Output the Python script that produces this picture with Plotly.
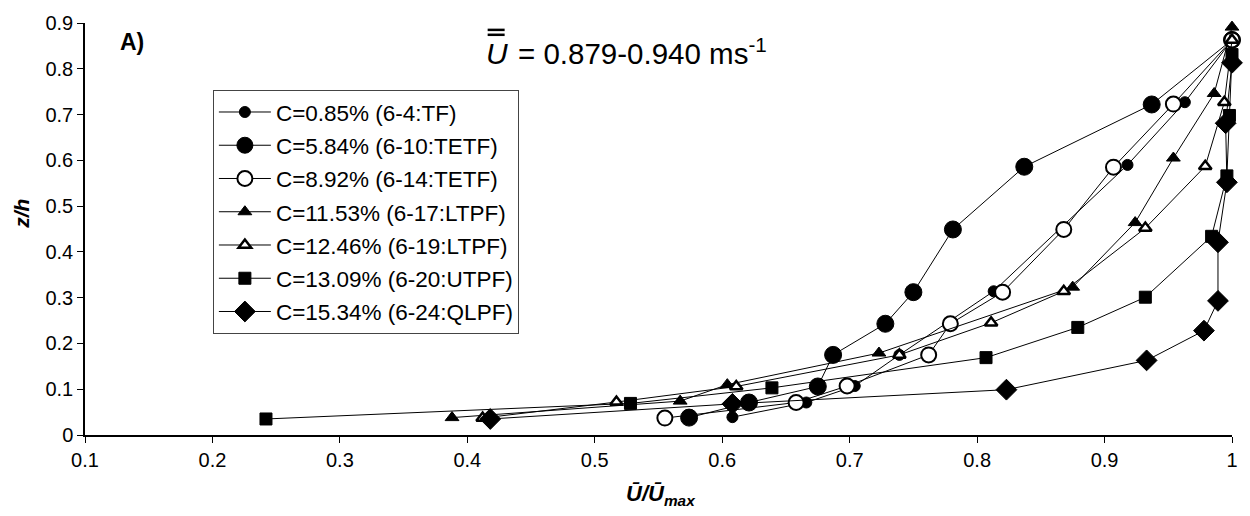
import plotly.graph_objects as go

# Velocity profiles: relative velocity vs relative depth for each concentration run
series_names = [
    "C=0.85% (6-4:TF)",
    "C=5.84% (6-10:TETF)",
    "C=8.92% (6-14:TETF)",
    "C=11.53% (6-17:LTPF)",
    "C=12.46% (6-19:LTPF)",
    "C=13.09% (6-20:UTPF)",
    "C=15.34% (6-24:QLPF)",
]

u_tf_085 = [0.608, 0.666, 0.704, 0.739, 0.813, 0.918, 0.963, 1.0]
z_tf_085 = [0.039, 0.071, 0.107, 0.175, 0.314, 0.590, 0.727, 0.863]

u_tetf_584 = [0.574, 0.621, 0.675, 0.687, 0.728, 0.750, 0.781, 0.837, 0.937, 1.0]
z_tetf_584 = [0.038, 0.071, 0.106, 0.175, 0.243, 0.312, 0.449, 0.586, 0.722, 0.863]

u_tetf_892 = [0.555, 0.658, 0.698, 0.762, 0.779, 0.820, 0.868, 0.907, 0.954, 1.0]
z_tetf_892 = [0.037, 0.071, 0.107, 0.175, 0.243, 0.312, 0.449, 0.585, 0.723, 0.863]

u_ltpf_1153 = [0.388, 0.567, 0.604, 0.723, 0.875, 0.924, 0.954, 0.986, 1.0]
z_ltpf_1153 = [0.038, 0.074, 0.110, 0.179, 0.323, 0.464, 0.605, 0.746, 0.891]

u_ltpf_1246 = [0.412, 0.517, 0.611, 0.739, 0.811, 0.868, 0.932, 0.979, 0.994, 1.0]
z_ltpf_1246 = [0.037, 0.072, 0.106, 0.175, 0.245, 0.314, 0.452, 0.587, 0.727, 0.863]

u_utpf_1309 = [0.242, 0.528, 0.639, 0.807, 0.879, 0.932, 0.984, 0.996, 0.998, 1.0]
z_utpf_1309 = [0.035, 0.069, 0.103, 0.169, 0.235, 0.301, 0.434, 0.566, 0.698, 0.831]

u_qlpf_1534 = [0.418, 0.608, 0.823, 0.933, 0.978, 0.989, 0.989, 0.996, 0.995, 1.0]
z_qlpf_1534 = [0.035, 0.068, 0.099, 0.163, 0.228, 0.293, 0.421, 0.552, 0.681, 0.813]

x_tick_vals = [0.1, 0.2, 0.3, 0.4, 0.5, 0.6, 0.7, 0.8, 0.9, 1.0]
x_tick_text = ["0.1", "0.2", "0.3", "0.4", "0.5", "0.6", "0.7", "0.8", "0.9", "1"]
y_tick_vals = [0, 0.1, 0.2, 0.3, 0.4, 0.5, 0.6, 0.7, 0.8, 0.9]
y_tick_text = ["0", "0.1", "0.2", "0.3", "0.4", "0.5", "0.6", "0.7", "0.8", "0.9"]

# Marker styles per run: (symbol, size, fill, outline width)
styles = [
    ("circle", 11, "black", 1),
    ("circle", 17, "black", 1),
    ("circle", 15, "white", 2),
    ("triangle-up", 12, "black", 1),
    ("triangle-up", 11, "white", 2.5),
    ("square", 12, "black", 1),
    ("diamond", 16, "black", 1),
]

data = [
    (u_tf_085, z_tf_085),
    (u_tetf_584, z_tetf_584),
    (u_tetf_892, z_tetf_892),
    (u_ltpf_1153, z_ltpf_1153),
    (u_ltpf_1246, z_ltpf_1246),
    (u_utpf_1309, z_utpf_1309),
    (u_qlpf_1534, z_qlpf_1534),
]

FONT = "Arial, Liberation Sans, sans-serif"
W, H = 1250, 516
ML, MR, MT, MB = 85, 17, 16, 81

fig = go.Figure()
for i, ((xs, ys), name, (sym, size, fill, lw)) in enumerate(zip(data, series_names, styles)):
    fig.add_trace(go.Scatter(
        x=xs, y=ys, mode="lines+markers", name=name,
        legendgroup=f"g{i}",
        line=dict(color="black", width=1),
        marker=dict(symbol=sym, size=size, color=fill,
                    line=dict(color="black", width=lw)),
        cliponaxis=False,
    ))


def px(xp):
    return (xp - ML) / (W - ML - MR)


def py(yp):
    return (H - MB - yp) / (H - MB - MT)


annotations = [
    dict(text="<b>A)</b>", x=px(118), y=py(35), xref="paper", yref="paper",
         xanchor="left", yanchor="middle", showarrow=False,
         font=dict(family=FONT, size=23, color="black")),
    dict(text="<i>U</i>", x=px(484), y=py(47), xref="paper", yref="paper",
         xanchor="left", yanchor="middle", showarrow=False,
         font=dict(family=FONT, size=30, color="black")),
    dict(text="= 0.879-0.940 ms<sup>-1</sup>", x=px(516), y=py(45), xref="paper", yref="paper",
         xanchor="left", yanchor="middle", showarrow=False,
         font=dict(family=FONT, size=29.5, color="black")),
    dict(text="<b><i>Ū/Ū<sub>max</sub></i></b>", x=px(662), y=py(496), xref="paper", yref="paper",
         xanchor="center", yanchor="middle", showarrow=False,
         font=dict(family=FONT, size=22, color="black")),
    dict(text="<b><i>z/h</i></b>", x=px(22), y=py(210), xref="paper", yref="paper",
         xanchor="center", yanchor="middle", showarrow=False, textangle=-90,
         font=dict(family=FONT, size=21, color="black")),
]

# Double overbar on the mean-velocity symbol
shapes = [
    dict(type="line", xref="paper", yref="paper",
         x0=px(488), x1=px(505), y0=py(yy), y1=py(yy),
         line=dict(color="black", width=2.5))
    for yy in (23, 28)
]

fig.update_layout(
    width=W, height=H,
    margin=dict(l=ML, r=MR, t=MT, b=MB),
    paper_bgcolor="white", plot_bgcolor="white",
    font=dict(family=FONT, color="black"),
    showlegend=True,
    legend=dict(
        x=px(213), y=py(84), xanchor="left", yanchor="top",
        bgcolor="white", bordercolor="#444", borderwidth=1,
        font=dict(family=FONT, size=22.5, color="black"),
        tracegroupgap=1, itemwidth=52,
    ),
    annotations=annotations,
    shapes=shapes,
)

fig.update_xaxes(
    range=[0.1, 1.0], tickvals=x_tick_vals, ticktext=x_tick_text,
    showgrid=False, zeroline=False, showline=True, linecolor="black", linewidth=1.5,
    ticks="outside", ticklen=6, tickcolor="black", tickwidth=1,
    tickfont=dict(family=FONT, size=20, color="black"),
)
fig.update_yaxes(
    range=[0, 0.9], tickvals=y_tick_vals, ticktext=y_tick_text,
    showgrid=False, zeroline=False, showline=True, linecolor="black", linewidth=1.5,
    ticks="outside", ticklen=6, tickcolor="black", tickwidth=1,
    tickfont=dict(family=FONT, size=20, color="black"),
)

fig.write_html("out.html")
